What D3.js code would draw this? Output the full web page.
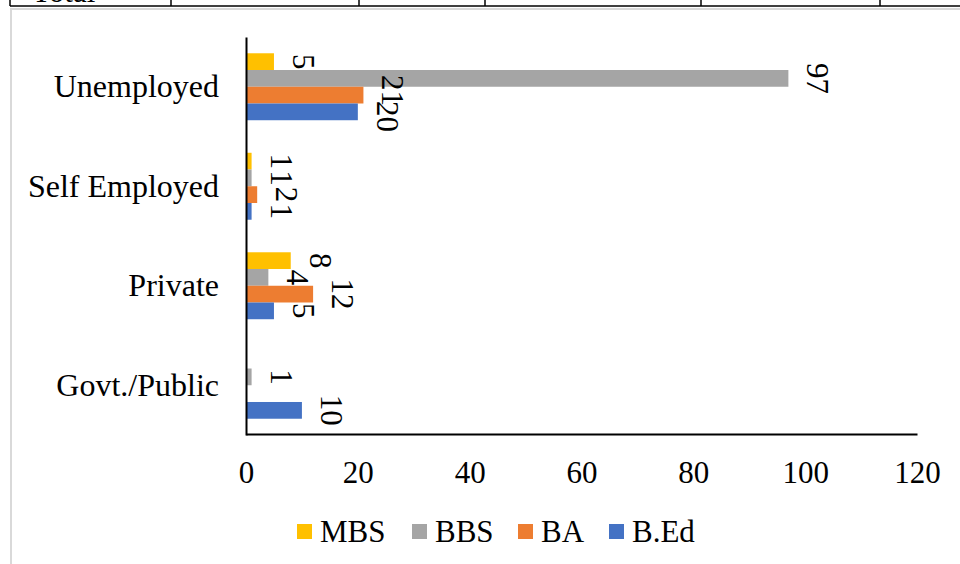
<!DOCTYPE html>
<html>
<head>
<meta charset="utf-8">
<script src="https://cdn.jsdelivr.net/npm/d3@7"></script>
<style>
  html, body { margin: 0; padding: 0; background: #fff; }
  svg { display: block; }
  text { font-family: "Liberation Serif", "Times New Roman", serif; fill: #000; }
</style>
</head>
<body>
<svg id="chart" width="960" height="564"></svg>
<script>
// ---- data ----
const categories = ["Unemployed", "Self Employed", "Private", "Govt./Public"];
const seriesNames = ["MBS", "BBS", "BA", "B.Ed"];
const seriesColors = ["#FFC000", "#A5A5A5", "#ED7D31", "#4472C4"];
const mbsValues  = [5, 1, 8, null];
const bbsValues  = [97, 1, 4, 1];
const baValues   = [21, 2, 12, null];
const bedValues  = [20, 1, 5, 10];
const xTickValues = [0, 20, 40, 60, 80, 100, 120];
const tableColumnEdges = [10, 171, 359, 485, 701, 880];
const tableFirstCell = "Total";

const seriesValues = [mbsValues, bbsValues, baValues, bedValues];

const svg = d3.select("#chart");

// ---- partial table row above the chart ----
const tbl = svg.append("g");
tbl.append("line").attr("x1", 10).attr("x2", 960).attr("y1", 6).attr("y2", 6)
  .attr("stroke", "#000").attr("stroke-width", 1.5);
tbl.selectAll("line.col").data(tableColumnEdges).join("line")
  .attr("class", "col")
  .attr("x1", d => d).attr("x2", d => d).attr("y1", 0).attr("y2", 6)
  .attr("stroke", "#000").attr("stroke-width", 1.5);
tbl.append("text").attr("x", 32).attr("y", 1.5)
  .attr("font-size", 31).text(tableFirstCell);

// ---- chart frame (light gray) ----
svg.append("path")
  .attr("d", "M11,564 L11,9 L960,9")
  .attr("fill", "none").attr("stroke", "#d9d9d9").attr("stroke-width", 2);

// ---- scales ----
const x = d3.scaleLinear().domain([0, 120]).range([246, 917]);
const y = d3.scaleBand().domain(categories).range([37, 435])
  .paddingInner(0.327).paddingOuter(0.1635);
const ySub = d3.scaleBand().domain(seriesNames).range([0, y.bandwidth()]).padding(0);

// ---- bars ----
const rows = [];
categories.forEach((c, ci) => {
  seriesNames.forEach((s, si) => {
    rows.push({ cat: c, series: s, color: seriesColors[si], value: seriesValues[si][ci] });
  });
});
const present = rows.filter(d => d.value !== null && d.value !== undefined);

svg.append("g").selectAll("rect").data(present).join("rect")
  .attr("x", x(0))
  .attr("y", d => y(d.cat) + ySub(d.series))
  .attr("width", d => x(d.value) - x(0))
  .attr("height", ySub.bandwidth())
  .attr("fill", d => d.color);

// ---- data labels (rotated 90°) ----
const LABEL_GAP = 19;
const labels = svg.append("g").selectAll("text").data(present).join("text")
  .attr("font-size", 31)
  .attr("text-anchor", "middle")
  .text(d => d.value);

// compute positions with simple collision avoidance within a category
labels.each(function(d) {
  d.lw = this.getComputedTextLength();
  d.lx = x(d.value) + LABEL_GAP;
  d.ly = y(d.cat) + ySub(d.series) + ySub.bandwidth() / 2;
});
categories.forEach(c => {
  const group = present.filter(d => d.cat === c);
  for (let i = 1; i < group.length; i++) {
    const a = group[i - 1], b = group[i];
    const xOverlap = Math.abs(a.lx - b.lx) < 22;
    const need = (a.lw + b.lw) / 2 - 5;
    const sep = b.ly - a.ly;
    if (xOverlap && sep < need) {
      const push = (need - sep) / 2;
      a.ly -= push;
      b.ly += push;
    }
  }
});
labels.attr("transform", d => `translate(${d.lx},${d.ly}) rotate(90)`);

// ---- axes ----
const xAxis = d3.axisBottom(x).tickValues(xTickValues).tickSize(0).tickPadding(27);
const gx = svg.append("g").attr("transform", "translate(0,434)").call(xAxis);
gx.select(".domain").attr("stroke", "#000").attr("stroke-width", 2);
gx.selectAll("text").attr("font-size", 31)
  .style("font-family", "'Liberation Serif', 'Times New Roman', serif");

const yAxis = d3.axisLeft(y).tickSize(0).tickPadding(27);
const gy = svg.append("g").attr("transform", "translate(246,0)").call(yAxis);
gy.select(".domain").attr("stroke", "#000").attr("stroke-width", 2);
gy.selectAll("text").attr("font-size", 32)
  .style("font-family", "'Liberation Serif', 'Times New Roman', serif");

// ---- legend ----
const legendX = [297, 412, 518, 609];
const lg = svg.append("g");
const items = lg.selectAll("g").data(seriesNames).join("g")
  .attr("transform", (d, i) => `translate(${legendX[i]},524)`);
items.append("rect").attr("width", 15).attr("height", 15)
  .attr("fill", (d, i) => seriesColors[i]);
items.append("text").attr("x", 23).attr("y", 17.5)
  .attr("font-size", 31).text(d => d);
</script>
</body>
</html>
